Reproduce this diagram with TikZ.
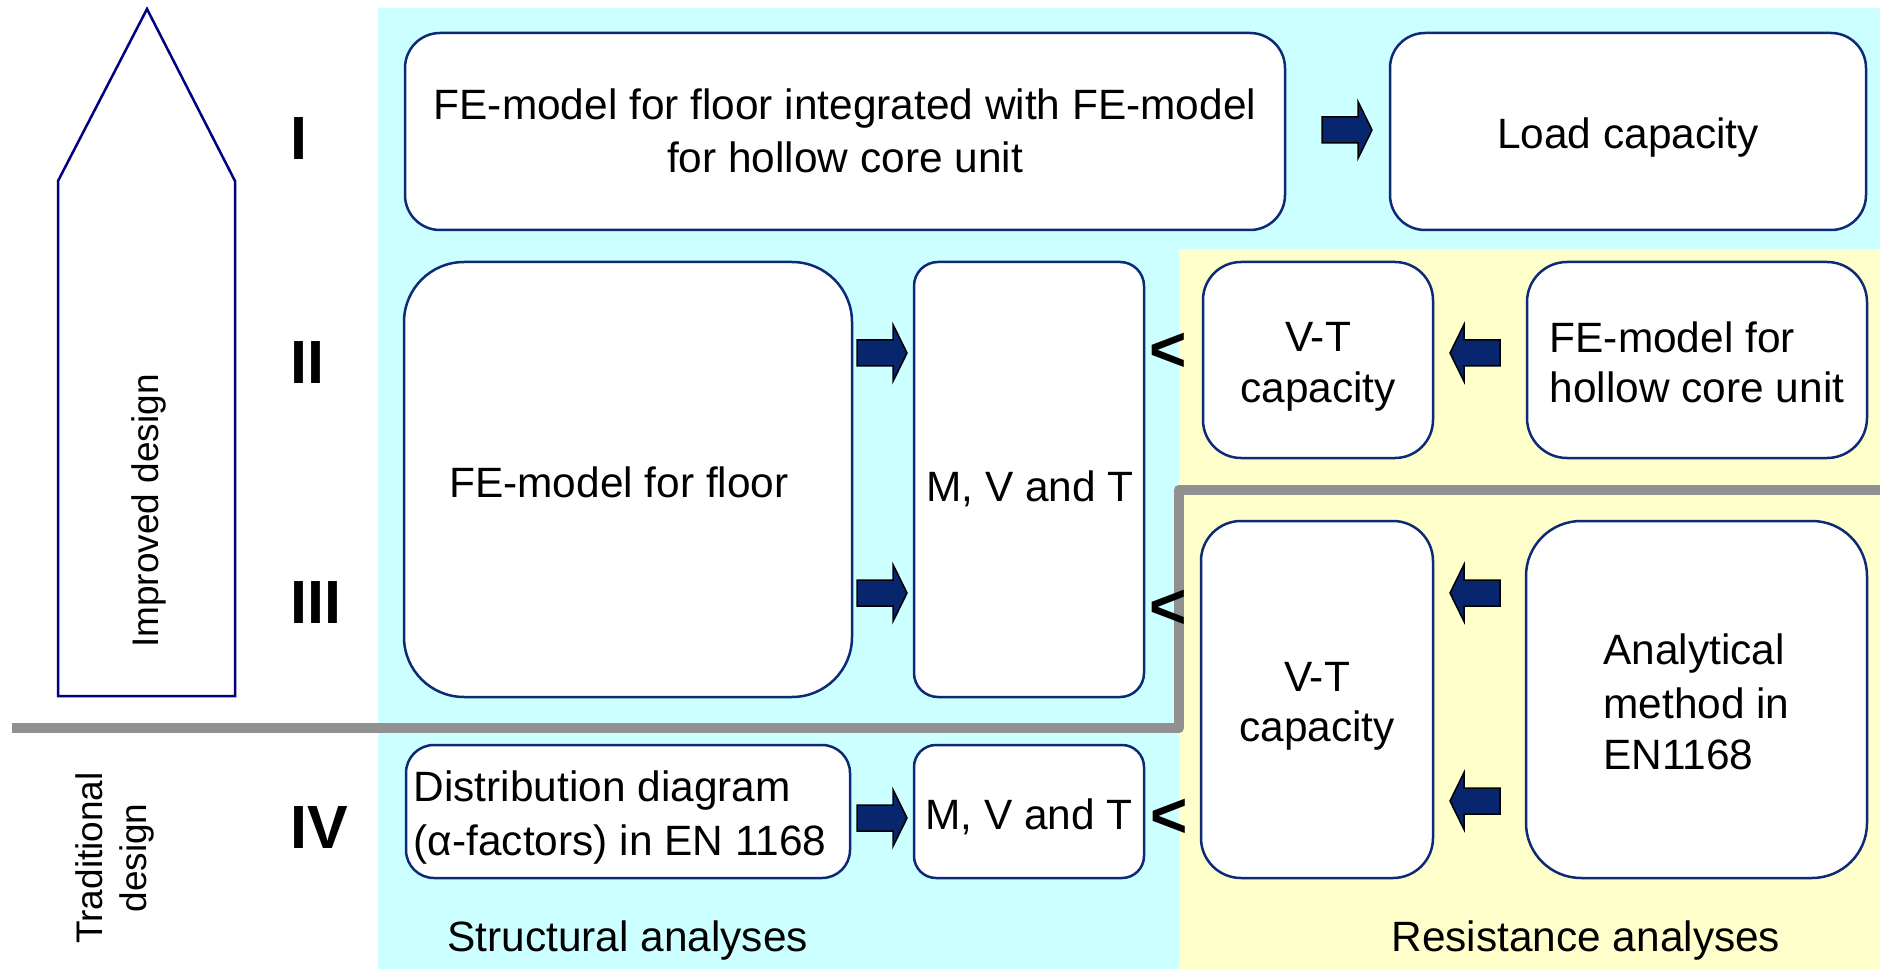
\documentclass[tikz,border=0pt]{standalone}
\usepackage{fontspec}
\setmainfont{Liberation Sans}
\definecolor{cyanbg}{RGB}{204,255,255}
\definecolor{yellowbg}{RGB}{255,255,204}
\definecolor{boxblue}{RGB}{12,42,118}
\definecolor{arrowblue}{RGB}{8,38,110}
\definecolor{navyline}{RGB}{0,0,128}
\definecolor{graysep}{RGB}{144,144,144}
\newcommand{\bxstrut}{\rule[-3.95pt]{0pt}{25.4pt}}
\begin{document}
\begin{tikzpicture}[x=0.5pt,y=-0.5pt,
  box/.style={draw=boxblue, line width=1.25pt, fill=white, inner sep=0pt, align=center,
    font=\fontsize{21.2pt}{25.4pt}\selectfont},
  lbl/.style={inner sep=0pt, font=\fontsize{21.2pt}{25.4pt}\selectfont},
  side/.style={inner sep=0pt, align=center, font=\fontsize{18.5pt}{22pt}\selectfont},
  roman/.style={inner sep=0pt, font=\fontsize{30.5pt}{32pt}\selectfont\bfseries},
  lessthan/.style={inner sep=0pt, font=\fontsize{32pt}{34pt}\selectfont\bfseries},
  sepline/.style={draw=graysep, line width=5pt, line join=round},
  pics/barrow/.style={code={
    \draw[fill=arrowblue, draw=black, line width=0.75pt, line join=miter]
      (0,-13) -- (36,-13) -- (36,-28.5) -- (50,0) -- (36,28.5) -- (36,13) -- (0,13) -- cycle;}}
]
\useasboundingbox (0,0) rectangle (1880,973);
% backgrounds
\fill[cyanbg] (378,8) rectangle (1880,969);
\fill[yellowbg] (1179,249) rectangle (1880,969);
% separator
\draw[sepline] (12,728) -- (1179,728) -- (1179,490) -- (1880,490);
% big up arrow
\draw[navyline, line width=1.25pt, line join=miter] (58,696) -- (58,181) -- (147,9) -- (235,181) -- (235,696) -- cycle;
\node[side, rotate=90] (imp) at (149,511) {Improved design};
\node[side, rotate=90] (trad) at (115,858) {Traditional\\design};
% roman numerals
\node[roman, anchor=base west] (r1) at (290,160) {I};
\node[roman, anchor=base west] (r2) at (290,383) {II};
\node[roman, anchor=base west] (r3) at (290,623) {III};
\node[roman, anchor=base west] (r4) at (290,848) {IV};
% boxes
\node[box, minimum width=440pt, minimum height=98.5pt, rounded corners=17.5pt] (b1) at (845,131.5) {};
\node[lbl, align=center] (t1) at (845,128.5)
  {\bxstrut FE-model for floor integrated with FE-model\\\bxstrut for hollow core unit};
\node[box, minimum width=238pt, minimum height=98.5pt, rounded corners=17.5pt] (b2) at (1628,131.5)
  {\bxstrut Load capacity};
\node[box, minimum width=224pt, minimum height=217.5pt, rounded corners=30pt] (b3) at (628,479.5) {};
\node[lbl] (t3) at (619,479.5) {\bxstrut FE-model for floor};
\node[box, minimum width=115pt, minimum height=217.5pt, rounded corners=12pt] (b4) at (1029,479.5) {};
\node[lbl] (t4) at (1030,484) {\bxstrut M, V and T};
\node[box, minimum width=115pt, minimum height=98pt, rounded corners=19pt] (b5) at (1318,360)
  {\bxstrut V-T\\\bxstrut capacity};
\node[box, minimum width=170pt, minimum height=98pt, rounded corners=20pt, align=left] (b6) at (1697,360)
  {\bxstrut FE-model for\\\bxstrut hollow core unit};
\node[box, minimum width=116pt, minimum height=178.5pt, rounded corners=20pt] (b7) at (1317,699.5)
  {\bxstrut V-T\\\bxstrut capacity};
\node[box, minimum width=170.5pt, minimum height=178.5pt, rounded corners=27.5pt, align=left] (b8) at (1696.5,699.5)
  {\bxstrut Analytical\\\bxstrut method in\\\bxstrut EN1168};
\node[box, minimum width=222pt, minimum height=66.5pt, rounded corners=14pt] (b9) at (628,811.5) {};
\node[lbl, align=left] (t9) at (620,811.5) {\bxstrut Distribution diagram\\\bxstrut (α-factors) in EN 1168};
\node[box, minimum width=115pt, minimum height=66.5pt, rounded corners=11pt] (b10) at (1029,811.5)
  {\bxstrut M, V and T};
% block arrows
\pic at (1322,130) {barrow};
\pic at (857,353) {barrow};
\pic at (857,593) {barrow};
\pic at (857,818) {barrow};
\pic[rotate=180] at (1500,353) {barrow};
\pic[rotate=180] at (1500,593) {barrow};
\pic[rotate=180] at (1500,801) {barrow};
% comparison signs
\node[lessthan] (lt2) at (1168,352) {<};
\node[lessthan] (lt3) at (1168,609) {<};
\node[lessthan] (lt4) at (1169,818) {<};
% bottom labels
\node[lbl, anchor=base west] (sa) at (447,951) {Structural analyses};
\node[lbl, anchor=base west] (ra) at (1391,951) {Resistance analyses};
\end{tikzpicture}
\end{document}
